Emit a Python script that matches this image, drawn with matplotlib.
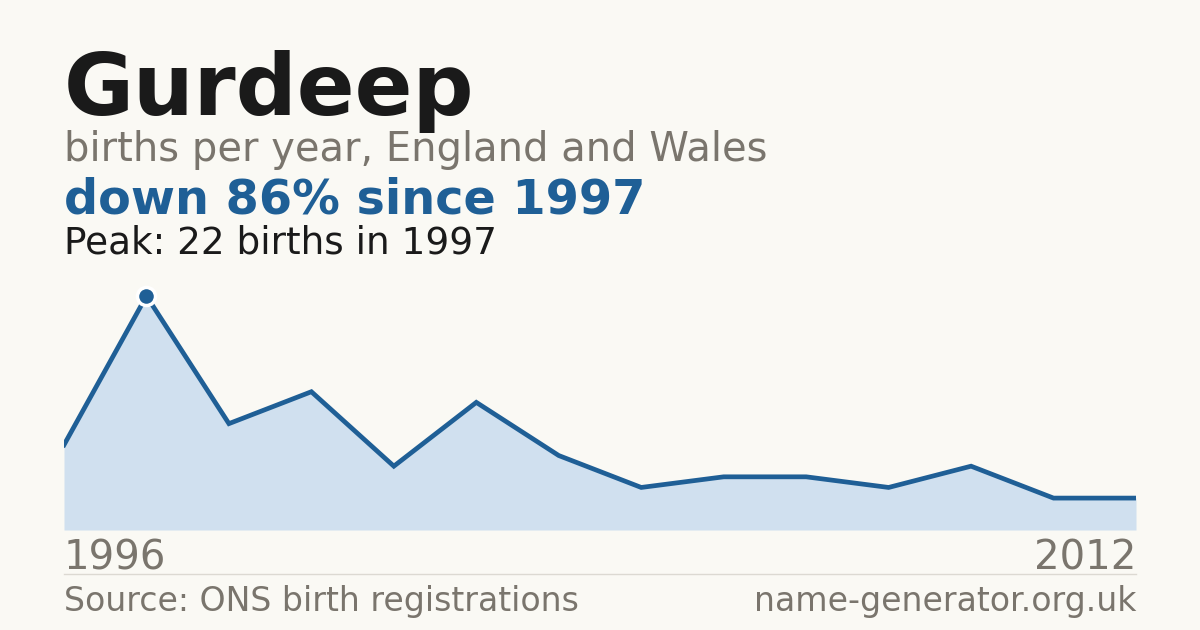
import numpy as np
import matplotlib.pyplot as plt

# births per year, first label 1996, last 2012
births = [8, 22, 10, 13, 6, 12, 7, 4, 5, 5, 4, 6, 3, 3]
first_year = "1996"
last_year = "2012"
peak_year = "1997"

BG = "#faf9f4"
BLUE = "#1f5f96"
FILL = "#d0e0ef"
GREY = "#7a756d"
DARK = "#1a1a1a"

W, H = 1200, 630

fig = plt.figure(figsize=(12, 6.3), dpi=100)
fig.patch.set_facecolor(BG)

# chart area
ax = fig.add_axes([64 / W, (H - 530) / H, (1136 - 64) / W, (530 - 296) / H])
ax.set_facecolor(BG)
x = np.arange(len(births))
ax.fill_between(x, births, 0, color=FILL, linewidth=0)
ax.plot(x, births, color=BLUE, linewidth=3.4, solid_joinstyle="miter")
ipk = int(np.argmax(births))
ax.plot(x[ipk], births[ipk], "o", color=BLUE, markersize=13,
        markeredgecolor="white", markeredgewidth=2.5, clip_on=False, zorder=5)
ax.set_xlim(0, len(births) - 1)
ax.set_ylim(0, max(births))
ax.axis("off")

# texts
fig.text(64 / W, 1 - 115 / H, "Gurdeep", fontsize=61.5, fontweight="bold",
         color=DARK, va="baseline")
fig.text(64 / W, 1 - 161 / H, "births per year, England and Wales",
         fontsize=28.8, color=GREY, va="baseline")
drop = round((births[ipk] - births[-1]) / births[ipk] * 100)
fig.text(64 / W, 1 - 214 / H, f"down {drop}% since {peak_year}",
         fontsize=34.4, fontweight="bold", color=BLUE, va="baseline")
fig.text(64 / W, 1 - 254 / H, f"Peak: {births[ipk]} births in {peak_year}",
         fontsize=26.9, color=DARK, va="baseline")

fig.text(64 / W, 1 - 569 / H, first_year, fontsize=29, color=GREY, va="baseline")
fig.text(1136 / W, 1 - 569 / H, last_year, fontsize=29, color=GREY,
         va="baseline", ha="right")

fig.add_artist(plt.Line2D([64 / W, 1136 / W], [1 - 574 / H, 1 - 574 / H],
                          color="#dcd9d2", linewidth=1))

fig.text(64 / W, 1 - 611 / H, "Source: ONS birth registrations",
         fontsize=23.9, color=GREY, va="baseline")
fig.text(1136 / W, 1 - 611 / H, "name-generator.org.uk",
         fontsize=23.9, color=GREY, va="baseline", ha="right")

fig.savefig("out.png", dpi=100, facecolor=BG)
